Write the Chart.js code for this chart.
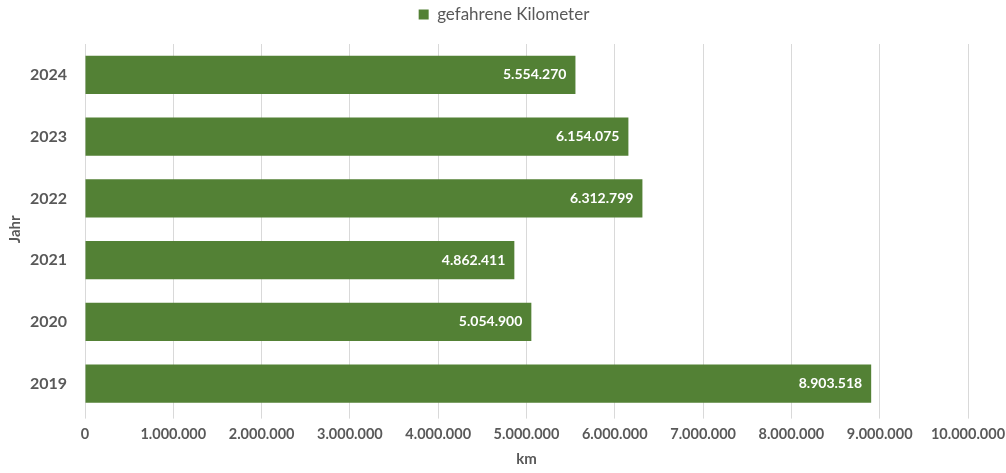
<head>
    <meta charset="UTF-8">
    <title>gefahrene Kilometer</title>
    <script src="https://cdn.jsdelivr.net/npm/chart.js@4"></script>
    <style>
        html, body { margin: 0; padding: 0; background: #fff; }
        #chartBox { width: 1006px; height: 473px; }
    </style>
</head>
<body>
    <div id="chartBox"><canvas id="kmChart"></canvas></div>

    <script>
        var years = ['2024', '2023', '2022', '2021', '2020', '2019'];
        var kilometers = [5554270, 6154075, 6312799, 4862411, 5054900, 8903518];
        var tickMax = 10000000;
        var tickStep = 1000000;

        var fontFamily = 'Lato, "Open Sans", sans-serif';
        var barColor = '#538135';
        var textColor = '#595959';

        // German thousands separator
        function formatDe(n) {
            return String(Math.round(n)).replace(/\B(?=(\d{3})+(?!\d))/g, '.');
        }

        // draws the value inside the end of each bar
        var barLabels = {
            id: 'barLabels',
            afterDatasetsDraw: function (chart) {
                var ctx = chart.ctx;
                var meta = chart.getDatasetMeta(0);
                ctx.save();
                ctx.font = 'bold 14px ' + fontFamily;
                ctx.fillStyle = '#ffffff';
                ctx.textAlign = 'right';
                ctx.textBaseline = 'middle';
                meta.data.forEach(function (bar, i) {
                    ctx.fillText(formatDe(chart.data.datasets[0].data[i]), bar.x - 9, bar.y);
                });
                ctx.restore();
            }
        };

        // extra space below the legend
        var legendGap = {
            id: 'legendGap',
            beforeInit: function (chart) {
                var origFit = chart.legend.fit;
                chart.legend.fit = function () {
                    origFit.bind(chart.legend)();
                    this.height += 11;
                };
            }
        };

        var kmChart = new Chart(document.getElementById('kmChart'), {
            type: 'bar',
            data: {
                labels: years,
                datasets: [{
                    label: 'gefahrene Kilometer',
                    data: kilometers,
                    backgroundColor: barColor,
                    borderWidth: 0,
                    categoryPercentage: 0.62,
                    barPercentage: 1.0
                }]
            },
            options: {
                indexAxis: 'y',
                responsive: true,
                maintainAspectRatio: false,
                animation: false,
                layout: { padding: { top: 0, right: 0, left: 2, bottom: 0 } },
                plugins: {
                    legend: {
                        position: 'top',
                        labels: {
                            boxWidth: 10,
                            boxHeight: 10,
                            color: textColor,
                            font: { family: fontFamily, size: 17 },
                            padding: 6
                        }
                    },
                    tooltip: { enabled: false }
                },
                scales: {
                    x: {
                        min: 0,
                        max: tickMax,
                        afterFit: function (scale) { scale.paddingRight = 38; },
                        ticks: {
                            stepSize: tickStep,
                            color: textColor,
                            font: { family: fontFamily, size: 14.5, weight: 'bold' },
                            padding: 7,
                            maxRotation: 0,
                            callback: function (v) { return formatDe(v); }
                        },
                        grid: { color: '#d9d9d9', drawTicks: true, tickLength: 4 },
                        border: { display: false },
                        title: {
                            display: true,
                            text: 'km',
                            color: textColor,
                            font: { family: fontFamily, size: 15, weight: 'bold' },
                            padding: { top: 0, bottom: 5 }
                        }
                    },
                    y: {
                        afterFit: function (scale) { scale.width = 83; },
                        ticks: {
                            color: textColor,
                            font: { family: fontFamily, size: 16, weight: 'bold' },
                            padding: 18
                        },
                        grid: { display: false, drawTicks: false },
                        border: { display: false },
                        title: {
                            display: true,
                            text: 'Jahr',
                            color: textColor,
                            font: { family: fontFamily, size: 15, weight: 'bold' },
                            padding: { top: 4, bottom: 0 }
                        }
                    }
                }
            },
            plugins: [barLabels, legendGap]
        });
    </script>
</body>
